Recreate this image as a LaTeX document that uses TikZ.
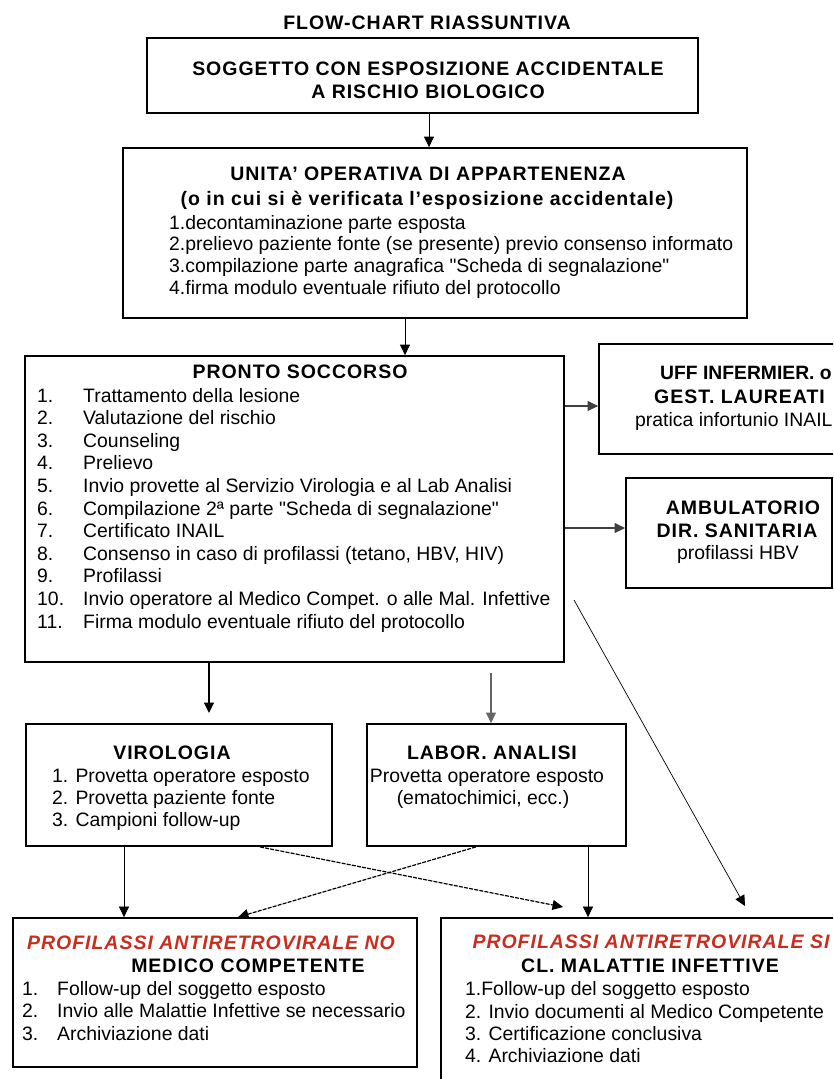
\documentclass[tikz,border=0pt]{standalone}
\usepackage{fontspec}
\setmainfont{Liberation Sans}
\newfontfamily\hdfont{Liberation Sans}[LetterSpace=5]
\usetikzlibrary{arrows.meta}
\definecolor{redt}{RGB}{200,45,30}
\tikzset{
 box/.style={draw=black, line width=1.8pt, rectangle, inner sep=0pt},
 hd/.style={font=\hdfont\bfseries\fontsize{19.5}{22}\selectfont, inner sep=0pt},
 rd/.style={font=\hdfont\bfseries\itshape\fontsize{19.5}{22}\selectfont, text=redt, inner sep=0pt},
 tx/.style={font=\fontsize{19.4}{22}\selectfont, inner sep=0pt, yshift=-4.5pt},
 arr/.style={line width=0.9pt, -{Triangle[length=10.5pt,width=10pt]}},
 darr/.style={line width=1.2pt, dash pattern=on 4pt off 1.2pt, -{Triangle[length=10.5pt,width=10pt]}},
}
\begin{document}
\begin{tikzpicture}[x=1pt,y=-1pt]
\useasboundingbox (0,0) rectangle (833,1079);
\clip (0,0) rectangle (833,1079);
% boxes
\node[box, minimum width=551, minimum height=75] (top) at (422.5,75.5) {};
\node[box, minimum width=624, minimum height=170] (unita) at (435,233) {};
\node[box, minimum width=539, minimum height=306] (ps) at (294.5,509) {};
\node[box, minimum width=246, minimum height=110] (uff) at (722,399) {};
\node[box, minimum width=206, minimum height=110] (amb) at (729,533) {};
\node[box, minimum width=306, minimum height=122] (vir) at (179,785) {};
\node[box, minimum width=259, minimum height=122] (lab) at (496.5,785) {};
\node[box, minimum width=404, minimum height=149] (no) at (215,992.5) {};
\node[box, minimum width=404, minimum height=180] (si) at (643,1008) {};
% title
\node[hd] (title) at (427,23) {FLOW-CHART RIASSUNTIVA};
% top box
\node[hd] (t1) at (428,69) {SOGGETTO CON ESPOSIZIONE ACCIDENTALE};
\node[hd] (t2) at (428,92) {A RISCHIO BIOLOGICO};
% unita
\node[hd] (u0) at (428,174) {UNITA’ OPERATIVA DI APPARTENENZA};
\node[hd] (u00) at (427,200) {(o in cui si è verificata l’esposizione accidentale)};
\node[tx, anchor=mid west] (u1) at (169,222) {1.decontaminazione parte esposta};
\node[tx, anchor=mid west] (u2) at (169,243) {2.prelievo paziente fonte (se presente) previo consenso informato};
\node[tx, anchor=mid west] (u3) at (169,265) {3.compilazione parte anagrafica \textquotedbl Scheda di segnalazione\textquotedbl};
\node[tx, anchor=mid west] (u4) at (169,287) {4.firma modulo eventuale rifiuto del protocollo};
% pronto soccorso
\node[hd] (p0) at (300,372) {PRONTO SOCCORSO};
\foreach \n/\t [count=\i from 0] in {1./Trattamento della lesione, 2./Valutazione del rischio, 3./Counseling, 4./Prelievo, 5./Invio provette al Servizio Virologia e al Lab Analisi, 6./{Compilazione 2ª parte \textquotedbl Scheda di segnalazione\textquotedbl}, 7./Certificato INAIL, 8./{Consenso in caso di profilassi (tetano, HBV, HIV)}, 9./Profilassi, 10./Invio operatore al Medico Compet. o alle Mal. Infettive, 11./Firma modulo eventuale rifiuto del protocollo} {
  \node[tx, anchor=mid west] (pn\i) at (37,395+22.6*\i) {\n};
  \node[tx, anchor=mid west] (pt\i) at (83,395+22.6*\i) {\t};
}
% uff
\node[hd, font=\bfseries\fontsize{19.3}{22}\selectfont, anchor=west] (f1) at (660,373) {UFF INFERMIER. o};
\node[hd, anchor=west] (f2) at (654,397) {GEST. LAUREATI};
\node[tx, anchor=mid west] (f3) at (635,419) {pratica infortunio INAIL};
% amb
\node[hd] (a1) at (743,508) {AMBULATORIO};
\node[hd] (a2) at (737,531) {DIR. SANITARIA};
\node[tx, anchor=mid] (a3) at (738,552) {profilassi HBV};
% virologia
\node[hd] (v0) at (172,753) {VIROLOGIA};
\node[tx, anchor=mid west] (v1) at (52,775) {1. Provetta operatore esposto};
\node[tx, anchor=mid west] (v2) at (52,797) {2. Provetta paziente fonte};
\node[tx, anchor=mid west] (v3) at (52,819) {3. Campioni follow-up};
% labor
\node[hd] (l0) at (492,753) {LABOR. ANALISI};
\node[tx, anchor=mid] (l1) at (487,775) {Provetta operatore esposto};
\node[tx, anchor=mid] (l2) at (483,797) {(ematochimici, ecc.)};
% no
\node[rd] (n0) at (211,943) {PROFILASSI ANTIRETROVIRALE NO};
\node[hd] (n00) at (248,966) {MEDICO COMPETENTE};
\foreach \n/\t [count=\i from 0] in {1./Follow-up del soggetto esposto, 2./Invio alle Malattie Infettive se necessario, 3./Archiviazione dati} {
  \node[tx, anchor=mid west] (nn\i) at (22,988+22.5*\i) {\n};
  \node[tx, anchor=mid west] (nt\i) at (57,988+22.5*\i) {\t};
}
% si
\node[rd] (s0) at (651,942) {PROFILASSI ANTIRETROVIRALE SI};
\node[hd] (s00) at (650,966) {CL. MALATTIE INFETTIVE};
\node[tx, anchor=mid west] (s1) at (465,988) {1.Follow-up del soggetto esposto};
\node[tx, anchor=mid west] (s2) at (465,1011) {2. Invio documenti al Medico Competente};
\node[tx, anchor=mid west] (s3) at (465,1033) {3. Certificazione conclusiva};
\node[tx, anchor=mid west] (s4) at (465,1055) {4. Archiviazione dati};
% connectors
\draw[arr] (top.south -| 429,0) -- (unita.north -| 429,0);
\draw[arr] (unita.south -| 405,0) -- (ps.north -| 405,0);
\draw[arr, line width=1.1pt, draw=black!75, fill=black] (ps.east |- 0,406) -- (uff.west |- 0,406);
\draw[arr, line width=1.1pt, draw=black!75, fill=black] (ps.east |- 0,528) -- (amb.west |- 0,528);
\coordinate (va) at (209,713);
\draw[arr, line width=1.1pt] (ps.south -| va) -- (va);
\coordinate (la) at (491,673);
\draw[arr, line width=1.1pt, draw=black!60, fill=black] (la) -- (lab.north -| la);
\coordinate (da) at (574,600);
\coordinate (db) at (745,906);
\draw[arr, line width=0.7pt] (da) -- (db);
\draw[arr, line width=0.7pt] (vir.south -| 124,0) -- (no.north -| 124,0);
\coordinate (xa) at (563,907);
\draw[darr] (vir.south -| 260,0) -- (xa);
\draw[darr] (lab.south -| 476,0) -- (no.north -| 238,0);
\draw[arr, line width=0.7pt] (lab.south -| 588,0) -- (si.north -| 588,0);
\end{tikzpicture}
\end{document}
